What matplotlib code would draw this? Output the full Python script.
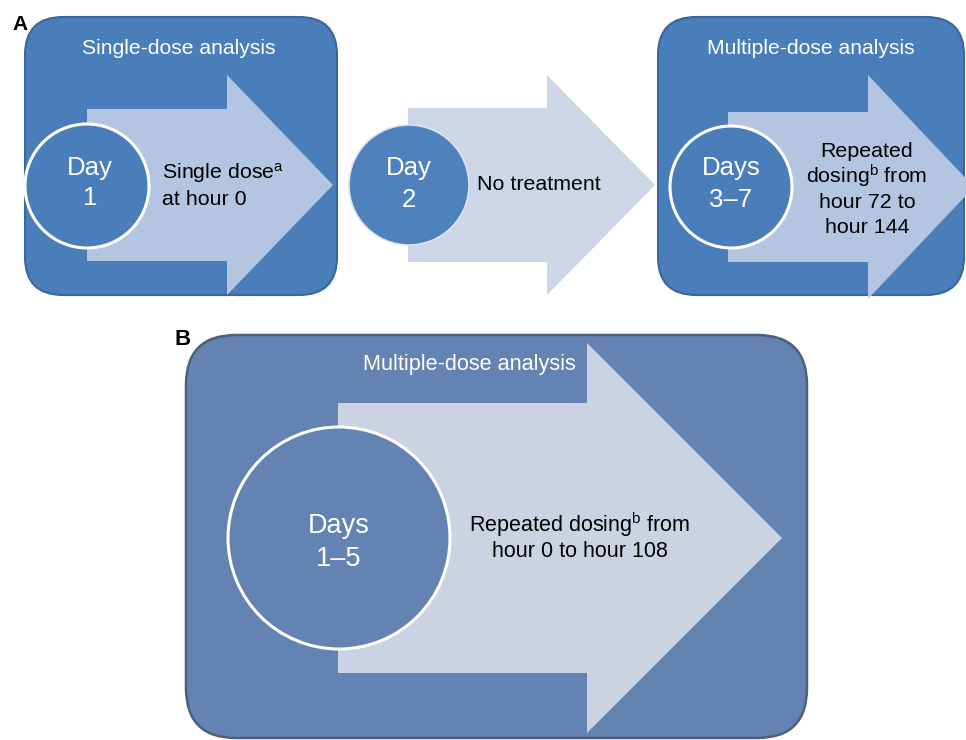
import matplotlib
matplotlib.use("Agg")
import matplotlib.pyplot as plt
from matplotlib.patches import FancyBboxPatch, Circle, Polygon

plt.rcParams['font.family'] = ['Liberation Sans', 'DejaVu Sans']
plt.rcParams['mathtext.fontset'] = 'custom'
plt.rcParams['mathtext.rm'] = 'Liberation Sans'
plt.rcParams['mathtext.it'] = 'Liberation Sans'

# ---- content ----
panel_letters = ["A", "B"]
box_titles = ["Single-dose analysis", "Multiple-dose analysis", "Multiple-dose analysis"]
day_labels = [["Day", "1"], ["Day", "2"], ["Days", "3\u20137"], ["Days", "1\u20135"]]
step_texts = [
    ["Single dose$^{\\mathrm{a}}$", "at hour 0"],
    ["No treatment"],
    ["Repeated", "dosing$^{\\mathrm{b}}$ from", "hour 72 to", "hour 144"],
    ["Repeated dosing$^{\\mathrm{b}}$ from", "hour 0 to hour 108"],
]

# ---- styles ----
BLUE_A = "#4a7ebb"
EDGE_A = "#3b6699"
ARROW_IN_A = "#b3c5e0"
ARROW_OUT = "#cdd6e7"
BLUE_B = "#6483b3"
EDGE_B = "#4e5f7c"
ARROW_B = "#cbd2e1"

W, H = 966, 740
fig = plt.figure(figsize=(W / 100, H / 100), dpi=100)
ax = fig.add_axes([0, 0, 1, 1])
ax.set_xlim(0, W)
ax.set_ylim(H, 0)
ax.axis("off")


def rbox(x0, y0, x1, y1, r, fc, ec, lw=1.5):
    ax.add_patch(FancyBboxPatch((x0, y0), x1 - x0, y1 - y0,
                                boxstyle=f"round,pad=0,rounding_size={r}",
                                fc=fc, ec=ec, lw=lw, zorder=1))


def arrow(sx0, hx, tip, yc, sh, hh, fc):
    pts = [(sx0, yc - sh), (hx, yc - sh), (hx, yc - hh), (tip, yc),
           (hx, yc + hh), (hx, yc + sh), (sx0, yc + sh)]
    ax.add_patch(Polygon(pts, closed=True, fc=fc, ec="none", zorder=2))


def circ(cx, cy, r, fc, ec, lw):
    ax.add_patch(Circle((cx, cy), r, fc=fc, ec=ec, lw=lw, zorder=3))


def lines(x, baselines, texts, size, color, ha="center"):
    for yb, t in zip(baselines, texts):
        ax.text(x, yb, t, ha=ha, va="baseline", fontsize=size, color=color, zorder=4)


# ---------- Panel A ----------
ax.text(12, 30, panel_letters[0], fontsize=15, fontweight="bold", ha="left", va="baseline")

# box 1
rbox(25, 17, 337, 295, 38, BLUE_A, EDGE_A)
arrow(87, 227, 333, 185, 76, 110, ARROW_IN_A)
circ(87, 186, 62, BLUE_A, "white", 2.2)
ax.text(179, 54, box_titles[0], ha="center", va="baseline", fontsize=15.2, color="white", zorder=4)
lines(90, [175, 205], day_labels[0], 18.5, "white")
lines(162, [179, 205], step_texts[0], 15.4, "black", ha="left")

# middle
arrow(408, 547, 655, 185, 77, 110, ARROW_OUT)
circ(409, 185, 60, "#4f81bd", "#dbe3ee", 1.2)
lines(409, [175, 207], day_labels[1], 18.5, "white")
lines(477, [190], step_texts[1], 15.4, "black", ha="left")

# box 3
rbox(658, 17, 964, 295, 38, BLUE_A, EDGE_A)
arrow(728, 868, 974, 187, 75, 112, ARROW_IN_A)
circ(731, 187, 61, BLUE_A, "white", 2.2)
ax.text(811, 54, box_titles[1], ha="center", va="baseline", fontsize=15.2, color="white", zorder=4)
lines(731, [175, 207], day_labels[2], 18.5, "white")
lines(867, [157, 183, 208, 233], step_texts[2], 15.4, "black")

# ---------- Panel B ----------
ax.text(174, 345, panel_letters[1], fontsize=16, fontweight="bold", ha="left", va="baseline")
rbox(186, 335, 807, 738, 50, BLUE_B, EDGE_B, lw=1.8)
arrow(338, 587, 782, 538, 135, 195, ARROW_B)
circ(339, 538, 111, BLUE_B, "white", 2.2)
ax.text(469, 370, box_titles[2], ha="center", va="baseline", fontsize=15.6, color="white", zorder=4)
lines(339, [533, 566], day_labels[3], 19.5, "white")
lines(580, [532, 557], step_texts[3], 15.5, "black")

fig.savefig("out.png", dpi=100)
